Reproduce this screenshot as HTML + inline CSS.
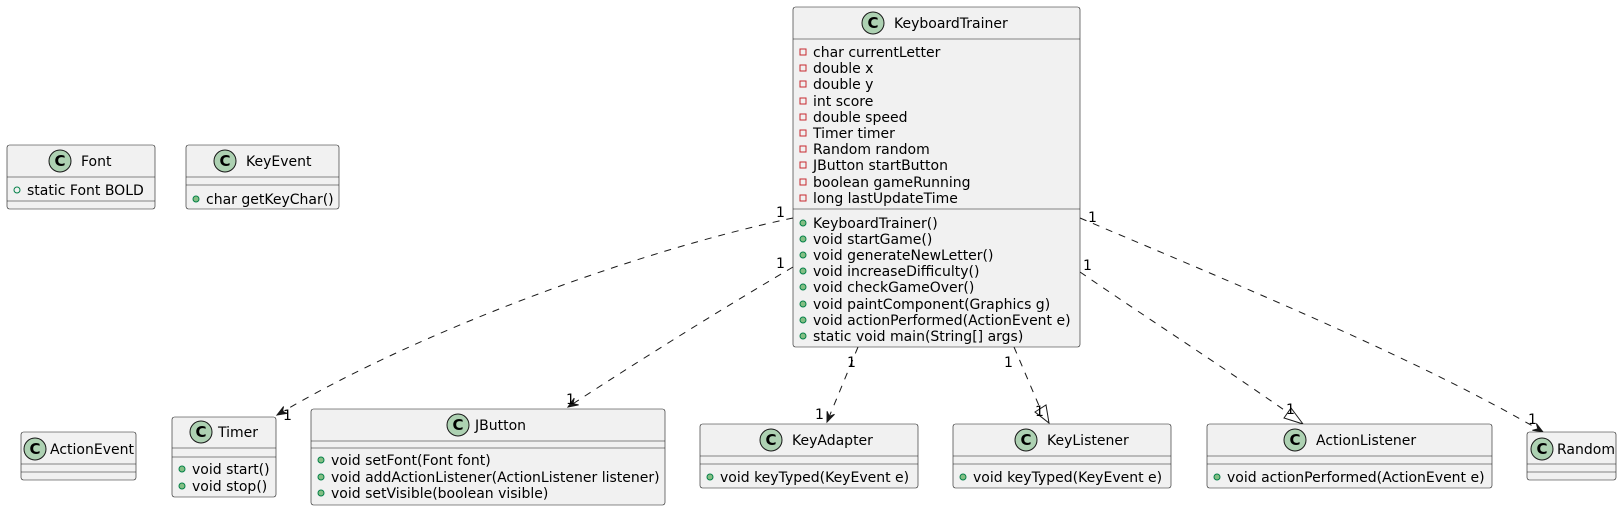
<!DOCTYPE html>
<html><head><meta charset="utf-8"><style>
html,body{margin:0;padding:0;background:#fff}
svg{display:block}
text{font-family:"DejaVu Sans","Liberation Sans",sans-serif;font-size:14px;fill:#000}
.b{fill:#F1F1F1;stroke:#181818;stroke-width:0.6}
.s{stroke:#181818;stroke-width:0.6}
.e{fill:none;stroke:#181818;stroke-width:1;stroke-dasharray:7,7}
.c{fill:#ADD1B2;stroke:#181818;stroke-width:1}
.ct{font-weight:bold;font-size:15px;text-anchor:middle}
.pr{fill:none;stroke:#C82930;stroke-width:1}
.pu{fill:#84BE84;stroke:#038048;stroke-width:1}
.ps{fill:none;stroke:#038048;stroke-width:1}
.ah{fill:#181818;stroke:#181818;stroke-width:1}
</style></head><body>
<svg width="1622" height="511" viewBox="0 0 1622 511" xmlns="http://www.w3.org/2000/svg">
<defs>
<g id="ci"><circle class="c" r="11"/><text class="ct" y="5">C</text></g>
</defs>

<!-- edges -->
<path class="e" d="M793,218 C640,250 420,330 277,415"/>
<path class="ah" d="M277,415 L287.6,413.3 L282.2,411.9 L283.6,406.5 Z"/>
<path class="e" d="M793,267 C720,310 640,360 568,407"/>
<path class="ah" d="M568,407 L578.6,404.9 L573,403.7 L574.2,398.1 Z"/>
<path class="e" d="M858,347 L827,422"/>
<path class="ah" d="M827,422 L834.5,414.3 L829.3,416.5 L827.1,411.3 Z"/>
<path class="e" d="M1014,347 L1040,408"/>
<path d="M1035,412 L1046,405 L1049,423 Z" fill="#fff" stroke="#181818"/>
<path class="e" d="M1080,272 C1150,320 1220,365 1287,412"/>
<path d="M1284,418 L1291,408 L1303,424 Z" fill="#fff" stroke="#181818"/>
<path class="e" d="M1080,218 C1250,290 1420,360 1543,432"/>
<path class="ah" d="M1543,432 L1532.4,430.3 L1537.8,428.9 L1536.4,423.5 Z"/>

<text x="776" y="217">1</text>
<text x="776" y="268">1</text>
<text x="283" y="420">1</text>
<text x="566" y="404">1</text>
<text x="847" y="367">1</text>
<text x="815" y="419">1</text>
<text x="1004" y="367">1</text>
<text x="1035" y="416">1</text>
<text x="1083" y="270">1</text>
<text x="1286" y="414">1</text>
<text x="1088" y="222">1</text>
<text x="1528" y="424">1</text>

<!-- KeyboardTrainer -->
<rect class="b" x="793" y="7" width="287" height="340" rx="2.5"/>
<line class="s" x1="793" y1="39" x2="1080" y2="39"/>
<line class="s" x1="793" y1="209" x2="1080" y2="209"/>
<use href="#ci" x="873" y="23"/>
<text x="894" y="28">KeyboardTrainer</text>
<g>
<rect class="pr" x="800" y="49" width="6" height="6"/><text x="813" y="57">char currentLetter</text>
<rect class="pr" x="800" y="65" width="6" height="6"/><text x="813" y="73">double x</text>
<rect class="pr" x="800" y="81" width="6" height="6"/><text x="813" y="89">double y</text>
<rect class="pr" x="800" y="98" width="6" height="6"/><text x="813" y="106">int score</text>
<rect class="pr" x="800" y="114" width="6" height="6"/><text x="813" y="122">double speed</text>
<rect class="pr" x="800" y="130" width="6" height="6"/><text x="813" y="138">Timer timer</text>
<rect class="pr" x="800" y="146" width="6" height="6"/><text x="813" y="154">Random random</text>
<rect class="pr" x="800" y="162" width="6" height="6"/><text x="813" y="170">JButton startButton</text>
<rect class="pr" x="800" y="179" width="6" height="6"/><text x="813" y="187">boolean gameRunning</text>
<rect class="pr" x="800" y="195" width="6" height="6"/><text x="813" y="203">long lastUpdateTime</text>
</g>
<g>
<circle class="pu" cx="803" cy="223" r="3"/><text x="813" y="228">KeyboardTrainer()</text>
<circle class="pu" cx="803" cy="239" r="3"/><text x="813" y="244">void startGame()</text>
<circle class="pu" cx="803" cy="255" r="3"/><text x="813" y="260">void generateNewLetter()</text>
<circle class="pu" cx="803" cy="271" r="3"/><text x="813" y="276">void increaseDifficulty()</text>
<circle class="pu" cx="803" cy="287" r="3"/><text x="813" y="292">void checkGameOver()</text>
<circle class="pu" cx="803" cy="304" r="3"/><text x="813" y="309">void paintComponent(Graphics g)</text>
<circle class="pu" cx="803" cy="320" r="3"/><text x="813" y="325">void actionPerformed(ActionEvent e)</text>
<circle class="pu" cx="803" cy="336" r="3"/><text x="813" y="341">static void main(String[] args)</text>
</g>

<!-- Font -->
<rect class="b" x="7" y="145" width="148" height="64" rx="2.5"/>
<line class="s" x1="7" y1="177" x2="155" y2="177"/>
<line class="s" x1="7" y1="201" x2="155" y2="201"/>
<use href="#ci" x="60" y="161"/>
<text x="81" y="166">Font</text>
<circle class="ps" cx="17" cy="190" r="3"/><text x="27" y="195">static Font BOLD</text>

<!-- KeyEvent -->
<rect class="b" x="186" y="145" width="153" height="64" rx="2.5"/>
<line class="s" x1="186" y1="177" x2="339" y2="177"/>
<line class="s" x1="186" y1="185" x2="339" y2="185"/>
<use href="#ci" x="225" y="161"/>
<text x="246" y="166">KeyEvent</text>
<circle class="pu" cx="196" cy="199" r="3"/><text x="206" y="204">char getKeyChar()</text>

<!-- ActionEvent -->
<rect class="b" x="21" y="432" width="115" height="48" rx="2.5"/>
<line class="s" x1="21" y1="464" x2="136" y2="464"/>
<line class="s" x1="21" y1="472" x2="136" y2="472"/>
<use href="#ci" x="35" y="449"/>
<text x="50" y="454">ActionEvent</text>

<!-- Timer -->
<rect class="b" x="172" y="417" width="104" height="80" rx="2.5"/>
<line class="s" x1="172" y1="448" x2="276" y2="448"/>
<line class="s" x1="172" y1="457" x2="276" y2="457"/>
<use href="#ci" x="201" y="432"/>
<text x="218" y="437">Timer</text>
<circle class="pu" cx="182" cy="469" r="3"/><text x="192" y="474">void start()</text>
<circle class="pu" cx="182" cy="486" r="3"/><text x="192" y="491">void stop()</text>

<!-- JButton -->
<rect class="b" x="311" y="409" width="354" height="96" rx="2.5"/>
<line class="s" x1="311" y1="441" x2="665" y2="441"/>
<line class="s" x1="311" y1="448" x2="665" y2="448"/>
<use href="#ci" x="458" y="425"/>
<text x="475" y="430">JButton</text>
<circle class="pu" cx="321" cy="460" r="3"/><text x="331" y="465">void setFont(Font font)</text>
<circle class="pu" cx="321" cy="477" r="3"/><text x="331" y="482">void addActionListener(ActionListener listener)</text>
<circle class="pu" cx="321" cy="493" r="3"/><text x="331" y="498">void setVisible(boolean visible)</text>

<!-- KeyAdapter -->
<rect class="b" x="700" y="424" width="218" height="64" rx="2.5"/>
<line class="s" x1="700" y1="456" x2="918" y2="456"/>
<line class="s" x1="700" y1="464" x2="918" y2="464"/>
<use href="#ci" x="771" y="440"/>
<text x="792" y="445">KeyAdapter</text>
<circle class="pu" cx="710" cy="477" r="3"/><text x="720" y="482">void keyTyped(KeyEvent e)</text>

<!-- KeyListener -->
<rect class="b" x="953" y="424" width="218" height="64" rx="2.5"/>
<line class="s" x1="953" y1="456" x2="1171" y2="456"/>
<line class="s" x1="953" y1="464" x2="1171" y2="464"/>
<use href="#ci" x="1026" y="440"/>
<text x="1047" y="445">KeyListener</text>
<circle class="pu" cx="963" cy="477" r="3"/><text x="973" y="482">void keyTyped(KeyEvent e)</text>

<!-- ActionListener -->
<rect class="b" x="1207" y="424" width="285" height="64" rx="2.5"/>
<line class="s" x1="1207" y1="456" x2="1492" y2="456"/>
<line class="s" x1="1207" y1="464" x2="1492" y2="464"/>
<use href="#ci" x="1295" y="440"/>
<text x="1316" y="445">ActionListener</text>
<circle class="pu" cx="1217" cy="477" r="3"/><text x="1227" y="482">void actionPerformed(ActionEvent e)</text>

<!-- Random -->
<rect class="b" x="1527" y="432" width="89" height="48" rx="2.5"/>
<line class="s" x1="1527" y1="464" x2="1616" y2="464"/>
<line class="s" x1="1527" y1="472" x2="1616" y2="472"/>
<use href="#ci" x="1542" y="449"/>
<text x="1557" y="454">Random</text>
</svg>
</body></html>
